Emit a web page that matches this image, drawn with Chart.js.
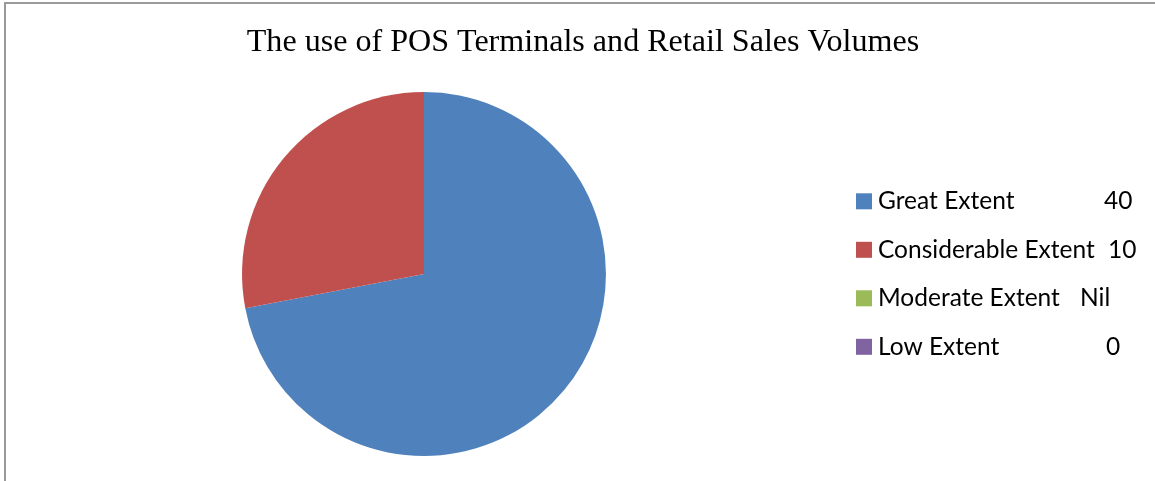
<!DOCTYPE html>
<html>
<head>
<meta charset="utf-8">
<script src="https://cdn.jsdelivr.net/npm/chart.js@4.4.1/dist/chart.umd.min.js"></script>
<style>
  html, body { margin: 0; padding: 0; background: #ffffff; overflow: hidden; }
  #wrap { position: relative; width: 1155px; height: 481px; }
  #c { position: absolute; left: 0; top: 0; }
  #frame { position: absolute; left: 4px; top: 2px; width: 1300px; height: 700px;
           border: 2px solid #9a9a9a; pointer-events: none; box-sizing: border-box; }
</style>
</head>
<body>
<div id="wrap">
  <canvas id="c" width="1155" height="481"></canvas>
  <div id="frame"></div>
</div>
<script>
// ---- data ----
const chartTitle = 'The use of POS Terminals and Retail Sales Volumes';
const categories = ['Great Extent', 'Considerable Extent', 'Moderate Extent', 'Low Extent'];
const legendValues = ['40', '10', 'Nil', '0'];
const shares = [72, 28, 0, 0];
const sliceColors = ['#4F81BD', '#C0504D', '#9BBB59', '#8064A2'];

// ---- custom right-hand legend as a Chart.js layout box ----
const sideLegend = {
  id: 'sideLegend',
  beforeInit(chart) {
    const font = '24.5px Lato';
    const valueOffsets = [267, 271, 243, 269];
    const box = {
      position: 'right', weight: 0, fullSize: false, options: {},
      isHorizontal() { return false; },
      update(maxW, maxH) { this.width = 318; this.height = maxH; return {}; },
      draw() {
        const ctx = chart.ctx;
        const labels = chart.data.labels;
        const colors = chart.data.datasets[0].backgroundColor;
        const n = labels.length;
        const step = 48.5;
        const mid = this.top + this.height / 2;
        ctx.save();
        ctx.font = font;
        ctx.textBaseline = 'alphabetic';
        ctx.textAlign = 'left';
        for (let i = 0; i < n; i++) {
          const cy = mid + (i - (n - 1) / 2) * step;
          ctx.fillStyle = colors[i];
          ctx.fillRect(this.left + 19, cy - 8, 16, 16);
          ctx.fillStyle = '#000000';
          ctx.fillText(labels[i], this.left + 41, cy + 8);
          ctx.fillText(legendValues[i], this.left + valueOffsets[i], cy + 8);
        }
        ctx.restore();
      }
    };
    Chart.layouts.addBox(chart, box);
  }
};

new Chart(document.getElementById('c'), {
  type: 'pie',
  data: {
    labels: categories,
    datasets: [{
      data: shares,
      backgroundColor: sliceColors,
      borderWidth: 0,
      hoverOffset: 0
    }]
  },
  options: {
    responsive: false,
    devicePixelRatio: 1,
    animation: false,
    layout: { padding: { left: 11, right: 0, top: 0, bottom: 25 } },
    plugins: {
      legend: { display: false },
      tooltip: { enabled: false },
      title: {
        display: true,
        text: chartTitle,
        color: '#000000',
        font: { family: 'Liberation Serif', size: 32.1, weight: 'normal' },
        padding: { top: 23, bottom: 30.6 }
      }
    }
  },
  plugins: [sideLegend]
});
</script>
</body>
</html>
